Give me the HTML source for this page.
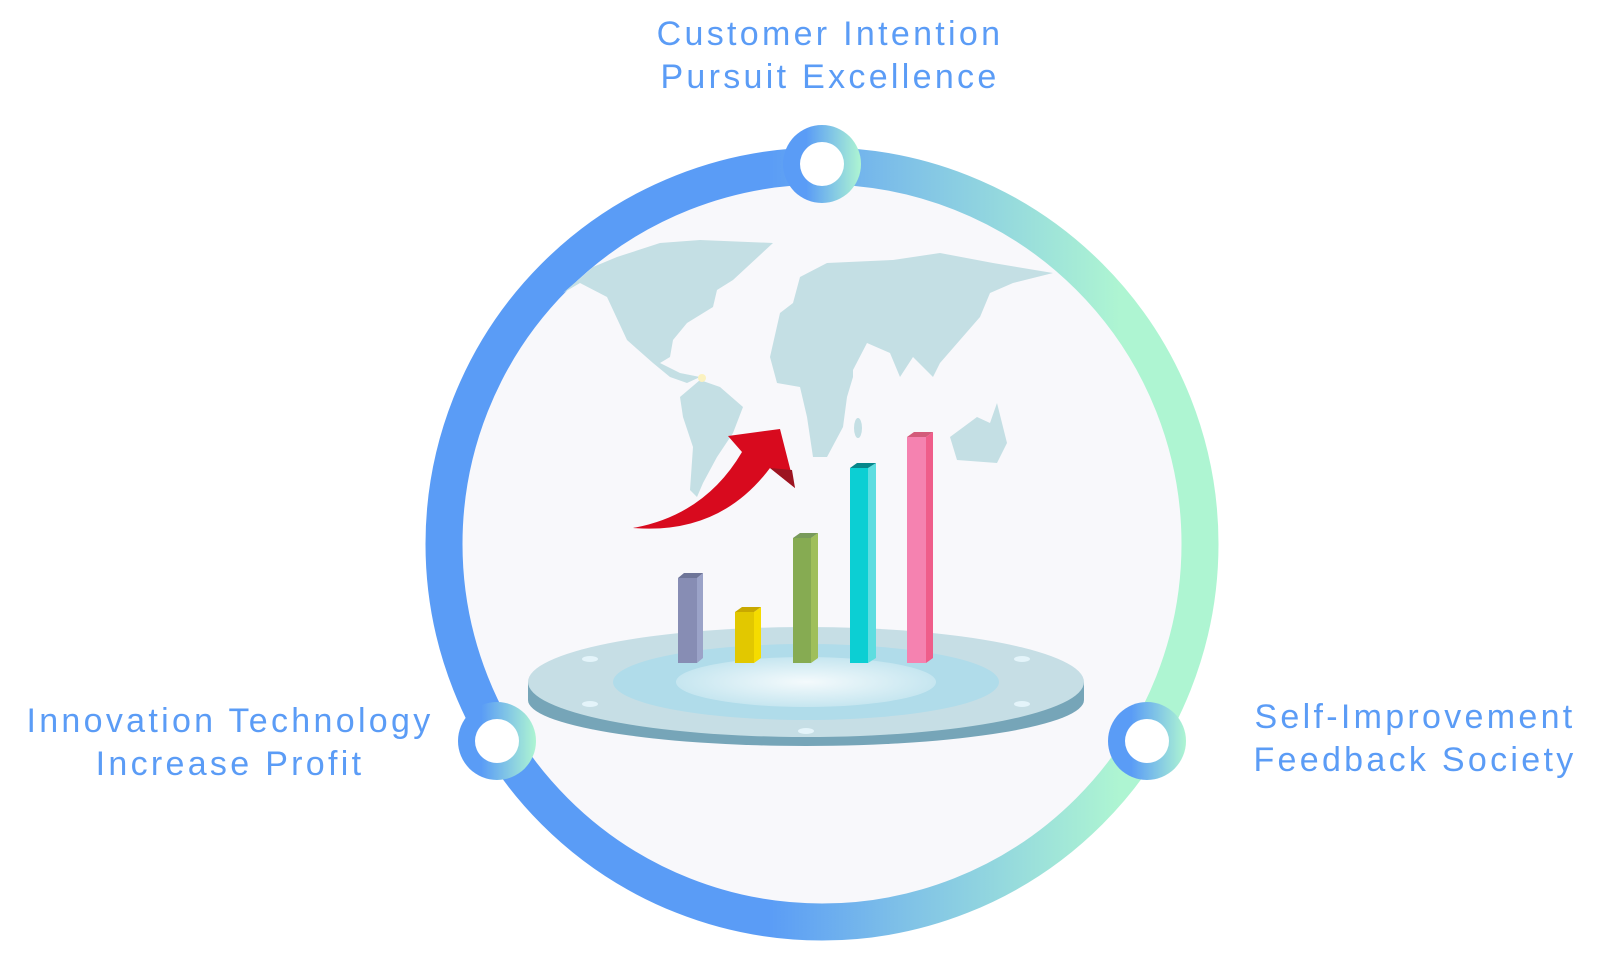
<!DOCTYPE html>
<html><head><meta charset="utf-8"><style>
html,body{margin:0;padding:0;background:#fff;width:1600px;height:977px;overflow:hidden}
.t{position:absolute;font-family:"Liberation Sans",sans-serif;font-size:34px;color:#5b9cf6;letter-spacing:3.3px;text-align:center;line-height:43px;white-space:nowrap}
</style></head><body>
<svg width="1600" height="977" style="position:absolute;left:0;top:0">
<defs>
<linearGradient id="ring" x1="0" y1="0" x2="1600" y2="0" gradientUnits="userSpaceOnUse">
<stop offset="0.48" stop-color="#5a9cf6"/><stop offset="0.56" stop-color="#7dbfe8"/><stop offset="0.7" stop-color="#aef5d2"/></linearGradient>
<linearGradient id="sm" x1="0" y1="0" x2="1" y2="0"><stop offset="0.3" stop-color="#5a9cf6"/><stop offset="1" stop-color="#aef5d2"/></linearGradient>
<radialGradient id="inn" cx="0.5" cy="0.5" r="0.5"><stop offset="0" stop-color="#f4fafc"/><stop offset="1" stop-color="#c6e6f0"/></radialGradient>
</defs>
<circle cx="822" cy="544" r="378" fill="#f8f8fb" stroke="url(#ring)" stroke-width="37"/>
<g fill="#c4dfe4">
<polygon points="563,293 593,267 617,257 660,243 700,240 773,243 733,280 717,290 713,307 687,323 673,340 670,357 660,363 680,373 700,377 687,383 670,377 653,363 627,340 607,297 580,283"/>
<polygon points="680,397 700,380 720,387 743,407 733,433 717,457 703,483 697,497 690,490 693,447 683,417"/>
<polygon points="800,277 827,263 893,260 940,253 993,263 1053,273 1013,283 990,293 980,317 960,340 940,363 933,377 913,357 900,377 890,353 867,343 853,370 853,377 847,397 843,427 827,457 813,457 807,417 800,387 777,383 770,357 780,313 793,303"/>
<polygon points="950,437 977,417 990,423 997,403 1007,443 997,463 957,460"/>
<ellipse cx="858" cy="428" rx="4" ry="10"/>
</g>
<circle cx="702" cy="378" r="4" fill="#fbf2c0"/>
<path d="M633,528 Q705,515 742,452 L728,436 L780,429 L795,488 L770,468 Q720,535 633,528 Z" fill="#d80a1e"/>
<path d="M770,468 L795,488 L792,470 Z" fill="#9c1420"/>
<ellipse cx="806" cy="700" rx="278" ry="46" fill="#76a5b8"/>
<rect x="528" y="682" width="556" height="18" fill="#76a5b8"/>
<ellipse cx="806" cy="682" rx="278" ry="55" fill="#c6dee5"/>
<ellipse cx="806" cy="682" rx="193" ry="38" fill="#b0dcea"/>
<ellipse cx="806" cy="682" rx="130" ry="25" fill="url(#inn)"/>
<g fill="#e4f4fa"><ellipse cx="590" cy="659" rx="8" ry="3"/><ellipse cx="1022" cy="659" rx="8" ry="3"/><ellipse cx="590" cy="704" rx="8" ry="3"/><ellipse cx="1022" cy="704" rx="8" ry="3"/><ellipse cx="806" cy="731" rx="8" ry="3"/></g>
<g>
<rect x="678" y="578" width="19" height="85" fill="#878db4"/><polygon points="697,578 703,573 703,658 697,663" fill="#9ba3c8"/><polygon points="678,578 684,573 703,573 697,578" fill="#6e7598"/>
<rect x="735" y="612" width="19" height="51" fill="#e2c800"/><polygon points="754,612 761,607 761,658 754,663" fill="#f5dc00"/><polygon points="735,612 742,607 761,607 754,612" fill="#c8a800"/>
<rect x="793" y="538" width="18" height="125" fill="#86ab52"/><polygon points="811,538 818,533 818,658 811,663" fill="#9fbf5a"/><polygon points="793,538 800,533 818,533 811,538" fill="#789a5a"/>
<rect x="850" y="468" width="18" height="195" fill="#0ccfd3"/><polygon points="868,468 876,463 876,658 868,663" fill="#5edde0"/><polygon points="850,468 857,463 876,463 868,468" fill="#06868a"/>
<rect x="907" y="437" width="19" height="226" fill="#f582b0"/><polygon points="926,437 933,432 933,658 926,663" fill="#ef5d8a"/><polygon points="907,437 914,432 933,432 926,437" fill="#d35b7a"/>
</g>
<g fill="url(#sm)"><circle cx="822" cy="164" r="39"/><circle cx="497" cy="741" r="39"/><circle cx="1147" cy="741" r="39"/></g>
<g fill="#fff"><circle cx="822" cy="164" r="22"/><circle cx="497" cy="741" r="22"/><circle cx="1147" cy="741" r="22"/></g>
</svg>
<div class="t" style="left:600px;top:13px;width:460px">Customer Intention<br>Pursuit Excellence</div>
<div class="t" style="left:0px;top:700px;width:460px">Innovation Technology<br>Increase Profit</div>
<div class="t" style="left:1190px;top:696px;width:450px">Self-Improvement<br>Feedback Society</div>
</body></html>
